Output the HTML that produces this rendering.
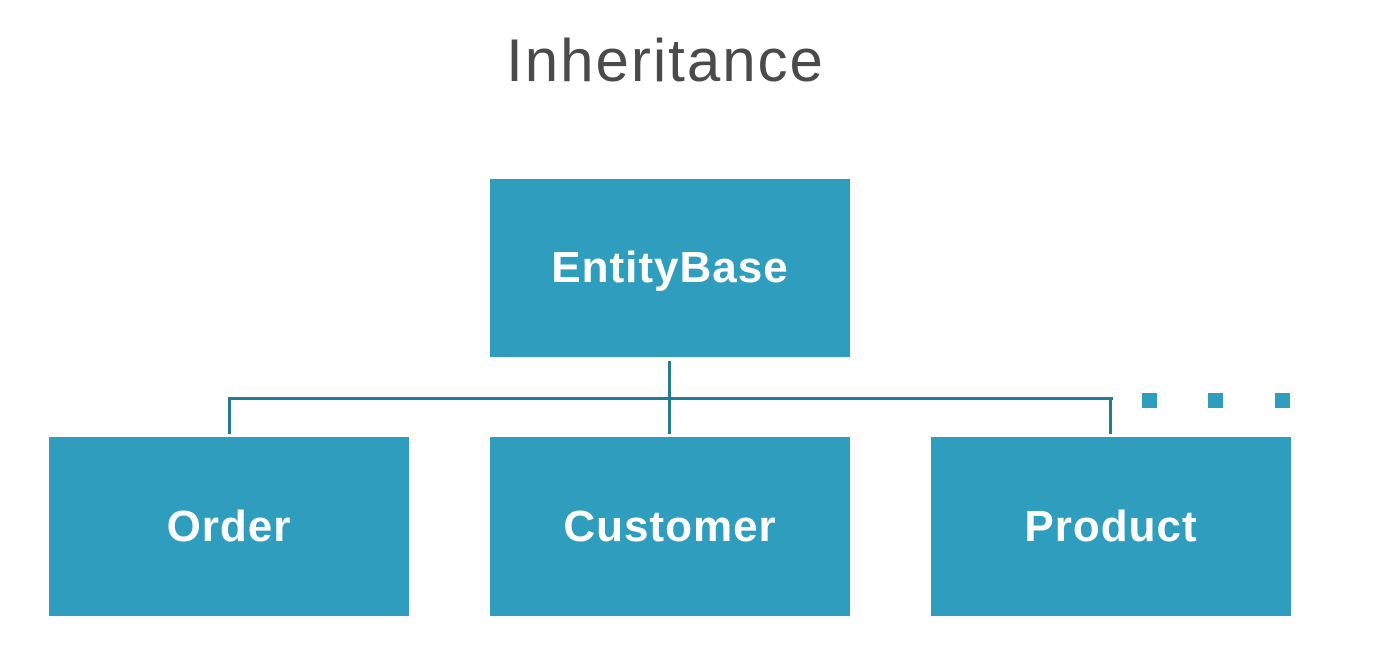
<!DOCTYPE html>
<html><head><style>
body{margin:0;width:1381px;height:663px;background:#fff;position:relative;overflow:hidden;font-family:"Liberation Sans",sans-serif}
.b{position:absolute;background:#2e9dbe;color:#fff;font-weight:bold;font-size:44px;letter-spacing:1px;display:flex;align-items:center;justify-content:center}
.l{position:absolute;background:#237c93}
.s{position:absolute;background:#2e9dbe;width:15px;height:15px;top:393px}
</style></head><body>
<div style="position:absolute;left:0;width:1331px;top:26px;text-align:center;font-size:60px;color:#4a4a4a;letter-spacing:2px">Inheritance</div>
<div class="b" style="left:490px;top:179px;width:360px;height:178px">EntityBase</div>
<div class="b" style="left:49px;top:437px;width:360px;height:179px">Order</div>
<div class="b" style="left:490px;top:437px;width:360px;height:179px">Customer</div>
<div class="b" style="left:931px;top:437px;width:360px;height:179px">Product</div>
<div class="l" style="left:228px;top:397px;width:885px;height:3px"></div>
<div class="l" style="left:668px;top:361px;width:3px;height:73px"></div>
<div class="l" style="left:228px;top:397px;width:3px;height:37px"></div>
<div class="l" style="left:1109px;top:397px;width:3px;height:37px"></div>
<div class="s" style="left:1142px"></div>
<div class="s" style="left:1208px"></div>
<div class="s" style="left:1275px"></div>
</body></html>
